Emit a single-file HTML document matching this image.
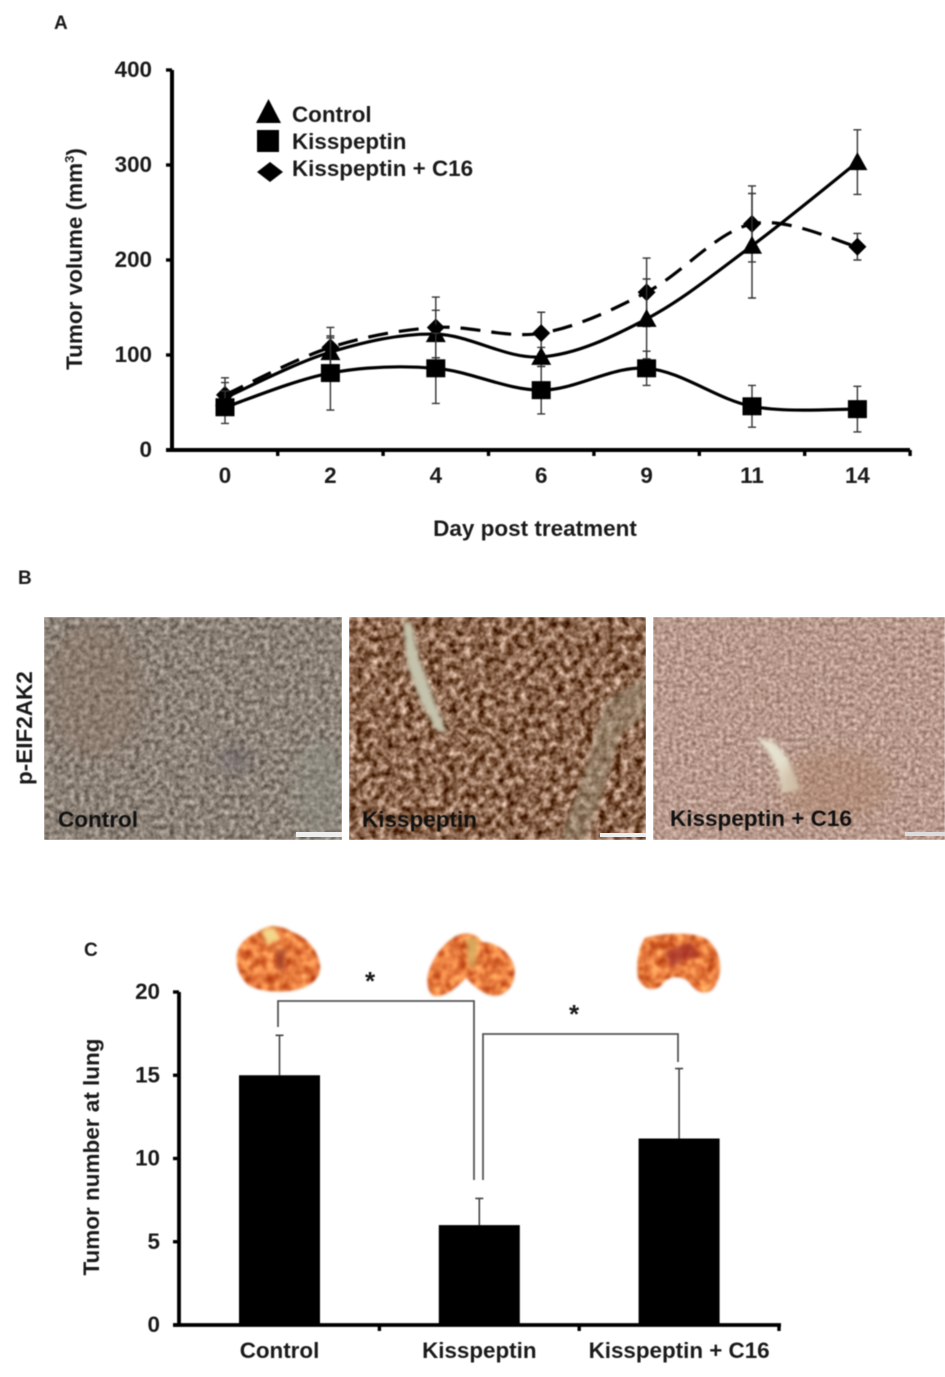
<!DOCTYPE html>
<html lang="en">
<head>
<meta charset="utf-8">
<title>Tumor volume, p-EIF2AK2 staining and lung tumor number</title>
<style>
html,body{margin:0;padding:0;background:#fff;}
svg{display:block;}
text{font-family:"Liberation Sans",Arial,sans-serif;font-weight:bold;fill:#1a1a1a;}
.soft{filter:blur(0.5px);}
</style>
</head>
<body>
<svg id="fig" xmlns="http://www.w3.org/2000/svg" width="945" height="1377" viewBox="0 0 945 1377">
<defs>
<filter id="tex1" x="0" y="0" width="100%" height="100%" color-interpolation-filters="sRGB">
<feTurbulence type="fractalNoise" baseFrequency="0.2" numOctaves="3" seed="4"/>
<feColorMatrix type="matrix" values="0.65 0 0 0 0.225  0.65 0 0 0 0.185  0.65 0 0 0 0.145  0 0 0 0 1"/>
<feGaussianBlur stdDeviation="0.9"/>
</filter>
<filter id="tex2" x="0" y="0" width="100%" height="100%" color-interpolation-filters="sRGB">
<feTurbulence type="fractalNoise" baseFrequency="0.14" numOctaves="3" seed="9"/>
<feColorMatrix type="matrix" values="1.1 0 0 0 0.0  1.15 0 0 0 -0.17  1.2 0 0 0 -0.29  0 0 0 0 1"/>
<feGaussianBlur stdDeviation="0.9"/>
</filter>
<filter id="tex3" x="0" y="0" width="100%" height="100%" color-interpolation-filters="sRGB">
<feTurbulence type="fractalNoise" baseFrequency="0.26" numOctaves="3" seed="15"/>
<feColorMatrix type="matrix" values="0.55 0 0 0 0.445  0.6 0 0 0 0.3  0.6 0 0 0 0.25  0 0 0 0 1"/>
<feGaussianBlur stdDeviation="0.8"/>
</filter>
<filter id="lungtex" x="-10%" y="-10%" width="120%" height="120%" color-interpolation-filters="sRGB">
<feTurbulence type="fractalNoise" baseFrequency="0.12" numOctaves="3" seed="3" result="n"/>
<feColorMatrix in="n" type="matrix" values="0.6 0 0 0 0.6  0.8 0 0 0 0.08  0.6 0 0 0 -0.06  0 0 0 0 1" result="c"/>
<feComposite in="c" in2="SourceGraphic" operator="in"/>
<feGaussianBlur stdDeviation="1.3"/>
</filter>
<filter id="sblur" x="-30%" y="-30%" width="160%" height="160%"><feGaussianBlur stdDeviation="2.2"/></filter>
<filter id="wblur" x="-50%" y="-50%" width="200%" height="200%"><feGaussianBlur stdDeviation="7"/></filter>
<clipPath id="clip-p1"><rect x="44" y="617" width="298" height="223"/></clipPath>
<clipPath id="clip-p2"><rect x="349" y="617" width="297" height="223"/></clipPath>
<clipPath id="clip-p3"><rect x="653" y="617" width="292" height="223"/></clipPath>
</defs>

<g id="panel-a" class="soft">
  <text x="54" y="29" font-size="19">A</text>
  <text transform="translate(82,259) rotate(-90)" text-anchor="middle" font-size="22.5">Tumor volume (mm<tspan font-size="13" dy="-8">3</tspan><tspan dy="8">)</tspan></text>
  <text x="535" y="536" text-anchor="middle" font-size="22.5">Day post treatment</text>
  <g id="a-axes"></g>
  <g id="a-series"></g>
  <g>
    <g>
      <polygon points="268.500,99 281,123 256,123" fill="#000"/>
      <text x="292" y="122" font-size="22.4">Control</text>
    </g>
    <g>
      <rect x="257" y="130" width="22" height="22" fill="#000"/>
      <text x="292" y="149" font-size="22.4">Kisspeptin</text>
    </g>
    <g>
      <polygon points="270,162 283,172 270,182 257,172" fill="#000"/>
      <text x="292" y="176" font-size="22.4">Kisspeptin + C16</text>
    </g>
  </g>
</g>

<g id="panel-b">
  <text class="soft" x="18" y="584" font-size="19">B</text>
  <text class="soft" transform="translate(32,785) rotate(-90)" font-size="22.5">p-EIF2AK2</text>

  <g clip-path="url(#clip-p1)">
    <rect x="44" y="617" width="298" height="223" fill="#8e847b" filter="url(#tex1)"/>
    <ellipse cx="95" cy="690" rx="50" ry="70" fill="#8a6f5e" opacity=".3" filter="url(#wblur)"/>
    <ellipse cx="235" cy="760" rx="18" ry="14" fill="#5f5a64" opacity=".4" filter="url(#wblur)"/>
    <ellipse cx="320" cy="790" rx="25" ry="50" fill="#8d9488" opacity=".35" filter="url(#wblur)"/>
    <rect x="296" y="832" width="46" height="5" fill="#eee"/>
  </g>
  <g clip-path="url(#clip-p2)">
    <rect x="349" y="617" width="297" height="223" fill="#7f5c44" filter="url(#tex2)"/>
    <path d="M403,620 L412,625 L418,655 L434,700 L447,733 L436,730 L420,700 L407,665 Z" fill="#c4c2ac" filter="url(#sblur)"/>
    <path d="M646,676 L606,700 L596,730 L585,770 L560,840 L585,840 L604,790 L620,735 L646,715 Z" fill="#a09a84" opacity=".45" filter="url(#sblur)"/>
    <rect x="600" y="833" width="46" height="4" fill="#eee"/>
  </g>
  <g clip-path="url(#clip-p3)">
    <rect x="653" y="617" width="292" height="223" fill="#b69a8b" filter="url(#tex3)"/>
    <path d="M756,737 L774,742 L788,758 L798,782 L800,791 L782,793 L778,772 L768,752 Z" fill="#e6e1cf" filter="url(#sblur)"/>
    <ellipse cx="835" cy="785" rx="55" ry="35" fill="#a67a5c" opacity=".35" filter="url(#wblur)"/>
    <rect x="905" y="832" width="40" height="4" fill="#ddd"/>
  </g>
  <text class="soft" x="58" y="827" font-size="22.5" style="fill:#111">Control</text>
  <text class="soft" x="362" y="827" font-size="22.5" style="fill:#111">Kisspeptin</text>
  <text class="soft" x="670" y="826" font-size="22.5" style="fill:#111">Kisspeptin + C16</text>
</g>

<g id="panel-c" class="soft">
  <text x="84" y="956" font-size="19">C</text>
  <text transform="translate(99,1157) rotate(-90)" text-anchor="middle" font-size="22.5">Tumor number at lung</text>

  <g>
    <path d="M262,930 C270,924 284,926 292,932 C306,936 318,950 320,965 C321,978 312,986 296,990 C280,993 262,992 250,986 C238,978 234,960 238,950 C242,940 252,934 262,930 Z" fill="#e8803f" filter="url(#lungtex)"/>
    <path d="M260,930 L274,927 L280,938 L268,945 Z" fill="#f3d78a" filter="url(#sblur)"/>
    <path d="M276,948 L286,950 L284,972 L276,968 Z" fill="#9a3a26" opacity=".7" filter="url(#sblur)"/>
  </g>
  <g>
    <path d="M456,936 C464,932 476,932 482,942 C496,942 510,952 514,966 C517,980 510,994 496,996 C484,996 474,986 466,978 C458,986 446,998 434,996 C426,992 426,976 430,968 C436,952 446,942 456,936 Z" fill="#e47a3c" filter="url(#lungtex)"/>
    <path d="M466,938 L478,938 L475,968 L469,966 Z" fill="#d9b868" opacity=".8" filter="url(#sblur)"/>
  </g>
  <g>
    <path d="M645,938 C655,934 695,930 708,940 C720,950 724,970 716,984 C712,994 700,996 692,986 C686,976 672,974 664,982 C658,992 644,992 638,978 C636,964 638,948 645,938 Z" fill="#e8743e" filter="url(#lungtex)"/>
    <path d="M664,952 L690,942 L700,956 L684,960 L672,968 Z" fill="#a02c28" opacity=".75" filter="url(#sblur)"/>
  </g>

  <g id="c-axes"></g>
  <g id="c-bars"></g>

  <path d="M278,1027 V1001 H474 V1180" fill="none" stroke="#555" stroke-width="1.8"/>
  <path d="M483,1180 V1034 H678 V1062" fill="none" stroke="#555" stroke-width="1.8"/>
  <text x="370" y="990" text-anchor="middle" font-size="26">*</text>
  <text x="574" y="1023" text-anchor="middle" font-size="26">*</text>
</g>
</svg>

<script>
// Panel A data
var days = ['0', '2', '4', '6', '9', '11', '14'];
var volumeTicks = [0, 100, 200, 300, 400];
var controlMeans = [55, 103, 122, 98, 138, 215, 303];
var controlErrors = [16, 15, 25, 10, 42, 55, 34];
var kisspeptinMeans = [45, 81, 86, 63, 86, 46, 43];
var kisspeptinErrors = [17, 39, 37, 25, 18, 22, 24];
var comboMeans = [58, 108, 129, 123, 166, 238, 214];
var comboErrors = [18, 21, 32, 22, 36, 40, 14];

// Panel C data
var lungGroups = ['Control', 'Kisspeptin', 'Kisspeptin + C16'];
var lungMeans = [15, 6, 11.2];
var lungErrors = [2.4, 1.6, 4.2];
var lungTicks = [0, 5, 10, 15, 20];

var NS = 'http://www.w3.org/2000/svg';
function mk(parent, tag, attrs) {
  var el = document.createElementNS(NS, tag);
  for (var k in attrs) el.setAttribute(k, attrs[k]);
  parent.appendChild(el);
  return el;
}

// Axis functions
function xA(i) { return 225 + 105.4 * i; }
function yA(v) { return 450 - 0.95 * v; }
function xC(i) { return 279.5 + 199.8 * i; }
function yC(v) { return 1325 - 16.65 * v; }

// Panel A axes
var aAxes = document.getElementById('a-axes');
var aY = mk(aAxes, 'line', {x1: 172, y1: yA(400), x2: 172, y2: yA(0), stroke: '#000', 'stroke-width': 4});


var aX = mk(aAxes, 'line', {x1: 166, y1: yA(0), x2: 910, y2: yA(0), stroke: '#000', 'stroke-width': 4});


volumeTicks.forEach(function (t) {
  var tick = mk(aAxes, 'line', {x1: 166, y1: yA(t), x2: 172, y2: yA(t), stroke: '#000', 'stroke-width': 3.4});
  
  
  var lab = mk(aAxes, 'text', {x: 152, y: yA(t) + 7, 'text-anchor': 'end', 'font-size': 22.4});
  
  
  lab.textContent = t;
});
days.forEach(function (d, i) {
  var tick = mk(aAxes, 'line', {x1: xA(i) + 52.7, y1: yA(0), x2: xA(i) + 52.7, y2: yA(0) + 6, stroke: '#000', 'stroke-width': 3.4});
  
  
  var lab = mk(aAxes, 'text', {x: xA(i), y: 483, 'text-anchor': 'middle', 'font-size': 22.4});
  
  
  lab.textContent = d;
});

// Smooth line through the points
function smoothPath(vals) {
  var pts = vals.map(function (v, i) { return [xA(i), yA(v)]; });
  var d = 'M' + pts[0][0] + ',' + pts[0][1];
  for (var i = 0; i < pts.length - 1; i++) {
    var p0 = pts[Math.max(i - 1, 0)], p1 = pts[i], p2 = pts[i + 1], p3 = pts[Math.min(i + 2, pts.length - 1)];
    var c1x = p1[0] + (p2[0] - p0[0]) / 6, c1y = p1[1] + (p2[1] - p0[1]) / 6;
    var c2x = p2[0] - (p3[0] - p1[0]) / 6, c2y = p2[1] - (p3[1] - p1[1]) / 6;
    d += ' C' + c1x + ',' + c1y + ' ' + c2x + ',' + c2y + ' ' + p2[0] + ',' + p2[1];
  }
  return d;
}

function drawSeries(means, errors, shape, dashed, seriesName) {
  var g = mk(document.getElementById('a-series'), 'g', {});
  
  
  means.forEach(function (v, i) {
    var x = xA(i), top = yA(v + errors[i]), bot = yA(v - errors[i]);
    var bar = mk(g, 'path', {d: 'M' + x + ',' + top + ' V' + bot + ' M' + (x - 4) + ',' + top + ' H' + (x + 4) + ' M' + (x - 4) + ',' + bot + ' H' + (x + 4), stroke: '#333', 'stroke-width': 1.4, fill: 'none'});
    
    
  });
  var line = mk(g, 'path', {d: smoothPath(means), fill: 'none', stroke: '#000', 'stroke-width': 3.2});
  if (dashed) line.setAttribute('stroke-dasharray', '20 11');
  
  
  means.forEach(function (v, i) {
    var x = xA(i), y = yA(v), m;
    if (shape === 'triangle') {
      m = mk(g, 'polygon', {points: x + ',' + (y - 10) + ' ' + (x + 10) + ',' + (y + 8) + ' ' + (x - 10) + ',' + (y + 8), fill: '#000'});
    } else if (shape === 'square') {
      m = mk(g, 'rect', {x: x - 9.5, y: y - 9, width: 19, height: 18, fill: '#000'});
    } else {
      m = mk(g, 'polygon', {points: x + ',' + (y - 9) + ' ' + (x + 9) + ',' + y + ' ' + x + ',' + (y + 9) + ' ' + (x - 9) + ',' + y, fill: '#000'});
    }
    
    
  });
}
drawSeries(comboMeans, comboErrors, 'diamond', true, 'series-kisspeptin-c16');
drawSeries(controlMeans, controlErrors, 'triangle', false, 'series-control');
drawSeries(kisspeptinMeans, kisspeptinErrors, 'square', false, 'series-kisspeptin');

// Panel C axes
var cAxes = document.getElementById('c-axes');
var cY = mk(cAxes, 'line', {x1: 179, y1: yC(20), x2: 179, y2: yC(0), stroke: '#000', 'stroke-width': 3.8});


var cX = mk(cAxes, 'line', {x1: 173, y1: yC(0), x2: 781, y2: yC(0), stroke: '#000', 'stroke-width': 3.8});


lungTicks.forEach(function (t) {
  var tick = mk(cAxes, 'line', {x1: 173, y1: yC(t), x2: 179, y2: yC(t), stroke: '#000', 'stroke-width': 3.4});
  
  
  var lab = mk(cAxes, 'text', {x: 160, y: yC(t) + 7, 'text-anchor': 'end', 'font-size': 22.4});
  
  
  lab.textContent = t;
});

// Panel C bars
var cBars = document.getElementById('c-bars');
lungGroups.forEach(function (name, i) {
  var x = xC(i);
  var err = mk(cBars, 'path', {d: 'M' + x + ',' + yC(lungMeans[i]) + ' V' + yC(lungMeans[i] + lungErrors[i]) + ' M' + (x - 4) + ',' + yC(lungMeans[i] + lungErrors[i]) + ' H' + (x + 4), stroke: '#444', 'stroke-width': 1.6, fill: 'none'});
  
  
  var bar = mk(cBars, 'rect', {x: x - 40.5, y: yC(lungMeans[i]), width: 81, height: yC(0) - yC(lungMeans[i]), fill: '#000'});
  
  
  var tick = mk(cAxes, 'line', {x1: x + 99.9, y1: yC(0), x2: x + 99.9, y2: yC(0) + 6, stroke: '#000', 'stroke-width': 3.4});
  
  
  var lab = mk(cAxes, 'text', {x: x, y: 1358, 'text-anchor': 'middle', 'font-size': 22.4});
  
  
  lab.textContent = name;
});
</script>
</body>
</html>
